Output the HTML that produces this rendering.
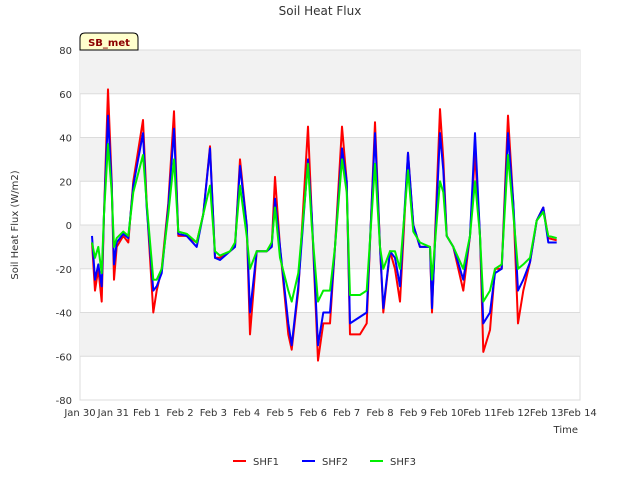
<!DOCTYPE html>
<html><head><meta charset="utf-8"><style>
body{margin:0;background:#fff;font-family:"DejaVu Sans","Liberation Sans",sans-serif}
svg text{font-family:"DejaVu Sans","Liberation Sans",sans-serif}
</style></head><body>
<svg id="chart" width="640" height="480" xmlns="http://www.w3.org/2000/svg">
<rect width="640" height="480" fill="#fff"/>
<g id="bands"></g>
<g id="grid"></g>
<g id="lines"></g>
<g id="axes"></g>
<text x="320" y="15" text-anchor="middle" font-size="12" fill="#333">Soil Heat Flux</text>
<text transform="translate(18,225) rotate(-90)" text-anchor="middle" font-size="10" fill="#333">Soil Heat Flux (W/m2)</text>
<text x="578" y="433" text-anchor="end" font-size="10" fill="#333">Time</text>
<g>
<path d="M80,50 L80,38 Q80,33 85,33 L133,33 Q138,33 138,38 L138,50 Z" fill="#ffffcc" stroke="#000" stroke-width="1"/>
<text x="109" y="46" text-anchor="middle" font-size="10" font-weight="bold" fill="#8b0000">SB_met</text>
</g>
<g id="legend"></g>
</svg>
<script>
const times=[0.36,0.45,0.55,0.65,0.72,0.84,0.95,1.02,1.1,1.3,1.45,1.6,1.89,2.0,2.2,2.3,2.45,2.65,2.82,2.95,3.2,3.5,3.7,3.9,4.05,4.2,4.5,4.65,4.8,5.0,5.1,5.3,5.6,5.75,5.85,6.0,6.25,6.35,6.55,6.84,6.95,7.14,7.3,7.5,7.65,7.86,8.0,8.1,8.4,8.6,8.85,9.0,9.1,9.3,9.45,9.6,9.84,10.0,10.2,10.5,10.56,10.8,10.9,11.0,11.2,11.5,11.7,11.85,12.0,12.1,12.3,12.45,12.65,12.84,13.0,13.14,13.3,13.5,13.7,13.9,14.05,14.3];
const shf1=[-8,-30,-20,-35,5,62,20,-25,-10,-5,-8,20,48,10,-40,-30,-20,10,52,-5,-5,-8,5,36,-15,-15,-12,-10,30,0,-50,-12,-12,-10,22,-10,-50,-57,-30,45,5,-62,-45,-45,-10,45,20,-50,-50,-45,47,-10,-40,-12,-20,-35,33,0,-10,-10,-40,53,30,-5,-10,-30,-5,33,-5,-58,-48,-20,-20,50,10,-45,-30,-17,2,8,-6,-7];
const shf2=[-5,-25,-18,-28,5,50,18,-18,-8,-4,-6,18,42,8,-30,-28,-22,8,44,-4,-5,-10,5,35,-15,-16,-12,-10,27,0,-40,-12,-12,-10,12,-10,-45,-55,-28,30,5,-55,-40,-40,-10,35,20,-45,-42,-40,42,-10,-38,-12,-15,-28,33,0,-10,-10,-38,42,25,-5,-10,-25,-5,42,-5,-45,-40,-22,-20,42,10,-30,-25,-17,2,8,-8,-8];
const shf3=[-8,-15,-10,-22,5,37,15,-10,-6,-3,-5,15,32,10,-25,-25,-20,5,30,-3,-4,-8,5,18,-12,-14,-12,-8,18,-5,-20,-12,-12,-8,8,-15,-30,-35,-22,28,0,-35,-30,-30,-10,30,15,-32,-32,-30,28,-10,-20,-12,-12,-20,25,-3,-8,-10,-25,20,15,-5,-10,-20,-5,20,-5,-35,-30,-20,-18,32,5,-20,-18,-15,2,6,-5,-6];
const yTicks=[-80,-60,-40,-20,0,20,40,60,80];
const xTickLabels=["Jan 30","Jan 31","Feb 1","Feb 2","Feb 3","Feb 4","Feb 5","Feb 6","Feb 7","Feb 8","Feb 9","Feb 10","Feb 11","Feb 12","Feb 13","Feb 14"];
const seriesNames=["SHF1","SHF2","SHF3"];
const seriesColors=["#ff0000","#0000ff","#00ee00"];

const L=80,R=580,T=50,B=400;
const xs=t=>L+(R-L)*t/15;
const ys=v=>B-(B-T)*(v+80)/160;
const NS="http://www.w3.org/2000/svg";
function mk(tag,parent,attrs){const e=document.createElementNS(NS,tag);for(const k in attrs)e.setAttribute(k,attrs[k]);parent.appendChild(e);return e;}
const bands=document.getElementById('bands'),grid=document.getElementById('grid'),axes=document.getElementById('axes'),lines=document.getElementById('lines'),legend=document.getElementById('legend');
const bg=mk('rect',bands,{x:L,y:T,width:R-L,height:B-T,fill:'#fff',stroke:'#ddd'});


for(let i=0;i<yTicks.length-1;i++){
  if(i%2===1){const b=mk('rect',bands,{x:L,y:ys(yTicks[i+1]),width:R-L,height:ys(yTicks[i])-ys(yTicks[i+1]),fill:'#f2f2f2'});
  
  }
}
yTicks.forEach(v=>{
  const g=mk('line',grid,{x1:L,x2:R,y1:ys(v),y2:ys(v),stroke:'#dcdcdc','stroke-width':1});
  
  
  const t=mk('text',axes,{x:L-8,y:ys(v)+4,'text-anchor':'end','font-size':10,fill:'#333'});t.textContent=v;
  
  
});
xTickLabels.forEach((lab,i)=>{
  const t=mk('text',axes,{x:xs(i),y:416,'text-anchor':'middle','font-size':10,fill:'#333'});t.textContent=lab;
  
  
});
[shf1,shf2,shf3].forEach((s,k)=>{
  const d=s.map((v,i)=>(i?'L':'M')+xs(times[i]).toFixed(1)+','+ys(v).toFixed(1)).join(' ');
  const p=mk('path',lines,{d:d,fill:'none',stroke:seriesColors[k],'stroke-width':2,'stroke-linejoin':'round'});
  
  
});
const lx=[233,302,370];
seriesNames.forEach((n,k)=>{
  const g=mk('g',legend,{});
  
  
  mk('line',g,{x1:lx[k],x2:lx[k]+13,y1:461,y2:461,stroke:seriesColors[k],'stroke-width':2});
  const t=mk('text',g,{x:lx[k]+20,y:465,'font-size':10,fill:'#333'});t.textContent=n;
});
</script>
</body></html>
